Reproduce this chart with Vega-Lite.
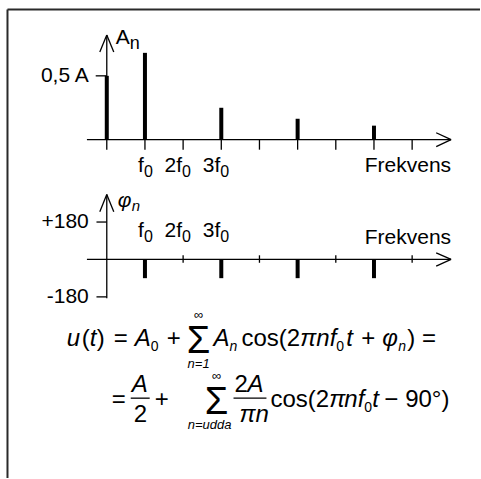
{
"$schema":"https://vega.github.io/schema/vega-lite/v6.json",
"width":481,"height":479,
"autosize":{"type":"fit","contains":"padding"},
"padding":0,
"background":"white",
"config":{"view":{"stroke":null},"mark":{"color":"black"},"text":{"font":"Liberation Sans"}},
"datasets":{
 "amplitude":[{"n":0,"A":0.5},{"n":1,"A":0.68},{"n":3,"A":0.25},{"n":5,"A":0.164},{"n":7,"A":0.11}],
 "phase":[{"n":1,"phi":-90},{"n":3,"phi":-90},{"n":5,"phi":-90},{"n":7,"phi":-90}],
 "ticks":[{"n":1},{"n":2},{"n":3},{"n":4},{"n":5},{"n":6},{"n":7},{"n":8}],
 "evenTicks":[{"n":2},{"n":4},{"n":6},{"n":8}],
 "harmLabels":[{"n":1,"main":"f","sub":"0"},{"n":2,"main":"2f","sub":"0"},{"n":3,"main":"3f","sub":"0"}],
 "ampAxes":[
  {"n":-0.52,"A":0,"n2":9.02,"A2":0},
  {"n":0,"A":-0.078,"n2":0,"A2":0.82},
  {"n":9.02,"A":0,"n2":8.63,"A2":0.0547},
  {"n":9.02,"A":0,"n2":8.63,"A2":-0.0547},
  {"n":0,"A":0.82,"n2":-0.183,"A2":0.6875},
  {"n":0,"A":0.82,"n2":0.183,"A2":0.6875},
  {"n":-0.29,"A":0.5,"n2":0,"A2":0.5}],
 "phaseAxes":[
  {"n":-0.52,"phi":0,"n2":9.02,"phi2":0},
  {"n":0,"phi":-187,"n2":0,"phi2":312},
  {"n":9.02,"phi":0,"n2":8.63,"phi2":32},
  {"n":9.02,"phi":0,"n2":8.63,"phi2":-32},
  {"n":0,"phi":312,"n2":-0.183,"phi2":230},
  {"n":0,"phi":312,"n2":0.183,"phi2":230},
  {"n":-0.27,"phi":180,"n2":0,"phi2":180},
  {"n":-0.27,"phi":-180,"n2":0,"phi2":-180}],
 "formula":[
  {"kind":"roman","t":"(","x":82,"y":347},
  {"kind":"roman","t":")","x":97,"y":347},
  {"kind":"roman","t":"=","x":114,"y":347},
  {"kind":"roman","t":"+","x":167,"y":347},
  {"kind":"roman","t":"cos(2","x":242,"y":347},
  {"kind":"roman","t":"+","x":362,"y":347},
  {"kind":"roman","t":")","x":408,"y":347},
  {"kind":"roman","t":"=","x":423,"y":347},
  {"kind":"italic","t":"u","x":67,"y":347},
  {"kind":"italic","t":"t","x":90,"y":347},
  {"kind":"italic","t":"A","x":135,"y":347},
  {"kind":"italic","t":"A","x":214,"y":347},
  {"kind":"italic","t":"π","x":301,"y":347},
  {"kind":"italic","t":"nf","x":317,"y":347},
  {"kind":"italic","t":"t","x":347,"y":347},
  {"kind":"italic","t":"φ","x":383,"y":347},
  {"kind":"subR","t":"0","x":151,"y":352},
  {"kind":"subR","t":"0","x":337,"y":352},
  {"kind":"subI","t":"n","x":230,"y":352},
  {"kind":"subI","t":"n","x":399,"y":352},
  {"kind":"big","t":"Σ","x":199,"y":354},
  {"kind":"limR","t":"∞","x":199,"y":320},
  {"kind":"limI","t":"n=1","x":199,"y":369},
  {"kind":"roman","t":"=","x":112,"y":408},
  {"kind":"roman","t":"2","x":134,"y":423},
  {"kind":"roman","t":"+","x":155,"y":408},
  {"kind":"roman","t":"2","x":235,"y":393},
  {"kind":"roman","t":"cos(2","x":271,"y":408},
  {"kind":"roman","t":"−","x":385,"y":408},
  {"kind":"roman","t":"90°)","x":406,"y":408},
  {"kind":"italic","t":"A","x":132,"y":393},
  {"kind":"italic","t":"A","x":248,"y":393},
  {"kind":"italic","t":"πn","x":240,"y":423},
  {"kind":"italic","t":"π","x":330,"y":408},
  {"kind":"italic","t":"nf","x":345,"y":408},
  {"kind":"italic","t":"t","x":373,"y":408},
  {"kind":"subR","t":"0","x":365,"y":413},
  {"kind":"big","t":"Σ","x":217,"y":415},
  {"kind":"limR","t":"∞","x":217,"y":381},
  {"kind":"limI","t":"n=udda","x":210,"y":430}],
 "fracBars":[{"x":131,"y":399,"x2":150,"y2":399},{"x":234,"y":399,"x2":267,"y2":399}],
 "frame":[{"x":7.5,"y":9.5,"x2":481,"y2":9.5},{"x":7.5,"y":9.5,"x2":7.5,"y2":479}]
},
"layer":[
 {"layer":[
  {"data":{"name":"ampAxes"},"mark":{"type":"rule","strokeWidth":1.3},
   "encoding":{"x":{"field":"n","type":"quantitative","scale":{"domain":[-2.7974,9.7778],"nice":false,"zero":false},"axis":null},"x2":{"field":"n2"},
    "y":{"field":"A","type":"quantitative","scale":{"domain":[-2.6484,1.09375],"nice":false,"zero":false},"axis":null},"y2":{"field":"A2"}}},
  {"data":{"name":"ticks"},"mark":{"type":"rule","strokeWidth":1.3},
   "encoding":{"x":{"field":"n","type":"quantitative","scale":{"domain":[-2.7974,9.7778],"nice":false,"zero":false},"axis":null},
    "y":{"datum":0,"type":"quantitative","scale":{"domain":[-2.6484,1.09375],"nice":false,"zero":false},"axis":null},"y2":{"datum":-0.078}}},
  {"data":{"name":"amplitude"},"mark":{"type":"rule","strokeWidth":4,"strokeCap":"butt"},
   "encoding":{"x":{"field":"n","type":"quantitative","scale":{"domain":[-2.7974,9.7778],"nice":false,"zero":false},"axis":null},
    "y":{"field":"A","type":"quantitative","scale":{"domain":[-2.6484,1.09375],"nice":false,"zero":false},"axis":null},"y2":{"datum":0}}},
  {"data":{"values":[{"label":"0,5 A","n":0,"A":0.5}]},"mark":{"type":"text","align":"right","baseline":"middle","dx":-18,"fontSize":21},
   "encoding":{"x":{"field":"n","type":"quantitative","scale":{"domain":[-2.7974,9.7778],"nice":false,"zero":false},"axis":null},
    "y":{"field":"A","type":"quantitative","scale":{"domain":[-2.6484,1.09375],"nice":false,"zero":false},"axis":null},"text":{"field":"label"}}},
  {"data":{"values":[{"main":"A","sub":"n","n":0,"A":0.75}]},"mark":{"type":"text","align":"left","baseline":"alphabetic","dx":9,"fontSize":21},
   "encoding":{"x":{"field":"n","type":"quantitative","scale":{"domain":[-2.7974,9.7778],"nice":false,"zero":false},"axis":null},
    "y":{"field":"A","type":"quantitative","scale":{"domain":[-2.6484,1.09375],"nice":false,"zero":false},"axis":null},"text":{"field":"main"}}},
  {"data":{"values":[{"main":"A","sub":"n","n":0,"A":0.75}]},"mark":{"type":"text","align":"left","baseline":"alphabetic","dx":23,"dy":5,"fontSize":18},
   "encoding":{"x":{"field":"n","type":"quantitative","scale":{"domain":[-2.7974,9.7778],"nice":false,"zero":false},"axis":null},
    "y":{"field":"A","type":"quantitative","scale":{"domain":[-2.6484,1.09375],"nice":false,"zero":false},"axis":null},"text":{"field":"sub"}}},
  {"data":{"name":"harmLabels"},"mark":{"type":"text","align":"right","baseline":"alphabetic","dx":-1,"fontSize":21},
   "encoding":{"x":{"field":"n","type":"quantitative","scale":{"domain":[-2.7974,9.7778],"nice":false,"zero":false},"axis":null},
    "y":{"datum":-0.25,"type":"quantitative","scale":{"domain":[-2.6484,1.09375],"nice":false,"zero":false},"axis":null},"text":{"field":"main"}}},
  {"data":{"name":"harmLabels"},"mark":{"type":"text","align":"left","baseline":"alphabetic","dx":-1,"dy":5,"fontSize":16},
   "encoding":{"x":{"field":"n","type":"quantitative","scale":{"domain":[-2.7974,9.7778],"nice":false,"zero":false},"axis":null},
    "y":{"datum":-0.25,"type":"quantitative","scale":{"domain":[-2.6484,1.09375],"nice":false,"zero":false},"axis":null},"text":{"field":"sub"}}},
  {"data":{"values":[{"label":"Frekvens","n":9.02,"A":-0.25}]},"mark":{"type":"text","align":"right","baseline":"alphabetic","fontSize":21},
   "encoding":{"x":{"field":"n","type":"quantitative","scale":{"domain":[-2.7974,9.7778],"nice":false,"zero":false},"axis":null},
    "y":{"field":"A","type":"quantitative","scale":{"domain":[-2.6484,1.09375],"nice":false,"zero":false},"axis":null},"text":{"field":"label"}}}
 ]},
 {"layer":[
  {"data":{"name":"phaseAxes"},"mark":{"type":"rule","strokeWidth":1.3},
   "encoding":{"x":{"field":"n","type":"quantitative","scale":{"domain":[-2.7974,9.7778],"nice":false,"zero":false},"axis":null},"x2":{"field":"n2"},
    "y":{"field":"phi","type":"quantitative","scale":{"domain":[-1051.2,1248],"nice":false,"zero":false},"axis":null},"y2":{"field":"phi2"}}},
  {"data":{"name":"evenTicks"},"mark":{"type":"rule","strokeWidth":1.3},
   "encoding":{"x":{"field":"n","type":"quantitative","scale":{"domain":[-2.7974,9.7778],"nice":false,"zero":false},"axis":null},
    "y":{"datum":20,"type":"quantitative","scale":{"domain":[-1051.2,1248],"nice":false,"zero":false},"axis":null},"y2":{"datum":-16}}},
  {"data":{"name":"phase"},"mark":{"type":"rule","strokeWidth":4,"strokeCap":"butt"},
   "encoding":{"x":{"field":"n","type":"quantitative","scale":{"domain":[-2.7974,9.7778],"nice":false,"zero":false},"axis":null},
    "y":{"field":"phi","type":"quantitative","scale":{"domain":[-1051.2,1248],"nice":false,"zero":false},"axis":null},"y2":{"datum":0}}},
  {"data":{"values":[{"label":"+180","n":0,"phi":180},{"label":"-180","n":0,"phi":-180}]},"mark":{"type":"text","align":"right","baseline":"middle","dx":-18,"fontSize":21},
   "encoding":{"x":{"field":"n","type":"quantitative","scale":{"domain":[-2.7974,9.7778],"nice":false,"zero":false},"axis":null},
    "y":{"field":"phi","type":"quantitative","scale":{"domain":[-1051.2,1248],"nice":false,"zero":false},"axis":null},"text":{"field":"label"}}},
  {"data":{"values":[{"main":"φ","sub":"n","n":0,"phi":250}]},"mark":{"type":"text","align":"left","baseline":"alphabetic","dx":11,"fontSize":21,"fontStyle":"italic"},
   "encoding":{"x":{"field":"n","type":"quantitative","scale":{"domain":[-2.7974,9.7778],"nice":false,"zero":false},"axis":null},
    "y":{"field":"phi","type":"quantitative","scale":{"domain":[-1051.2,1248],"nice":false,"zero":false},"axis":null},"text":{"field":"main"}}},
  {"data":{"values":[{"main":"φ","sub":"n","n":0,"phi":250}]},"mark":{"type":"text","align":"left","baseline":"alphabetic","dx":25,"dy":4,"fontSize":15,"fontStyle":"italic"},
   "encoding":{"x":{"field":"n","type":"quantitative","scale":{"domain":[-2.7974,9.7778],"nice":false,"zero":false},"axis":null},
    "y":{"field":"phi","type":"quantitative","scale":{"domain":[-1051.2,1248],"nice":false,"zero":false},"axis":null},"text":{"field":"sub"}}},
  {"data":{"name":"harmLabels"},"mark":{"type":"text","align":"right","baseline":"alphabetic","dx":-1,"fontSize":21},
   "encoding":{"x":{"field":"n","type":"quantitative","scale":{"domain":[-2.7974,9.7778],"nice":false,"zero":false},"axis":null},
    "y":{"datum":106,"type":"quantitative","scale":{"domain":[-1051.2,1248],"nice":false,"zero":false},"axis":null},"text":{"field":"main"}}},
  {"data":{"name":"harmLabels"},"mark":{"type":"text","align":"left","baseline":"alphabetic","dx":-1,"dy":5,"fontSize":16},
   "encoding":{"x":{"field":"n","type":"quantitative","scale":{"domain":[-2.7974,9.7778],"nice":false,"zero":false},"axis":null},
    "y":{"datum":106,"type":"quantitative","scale":{"domain":[-1051.2,1248],"nice":false,"zero":false},"axis":null},"text":{"field":"sub"}}},
  {"data":{"values":[{"label":"Frekvens","n":9.02,"phi":72}]},"mark":{"type":"text","align":"right","baseline":"alphabetic","fontSize":21},
   "encoding":{"x":{"field":"n","type":"quantitative","scale":{"domain":[-2.7974,9.7778],"nice":false,"zero":false},"axis":null},
    "y":{"field":"phi","type":"quantitative","scale":{"domain":[-1051.2,1248],"nice":false,"zero":false},"axis":null},"text":{"field":"label"}}}
 ]},
 {"layer":[
  {"data":{"name":"frame"},"mark":{"type":"rule","strokeWidth":2,"color":"#2a2a2a"},
   "encoding":{"x":{"field":"x","type":"quantitative","scale":{"domain":[0,481],"nice":false,"zero":false},"axis":null},"x2":{"field":"x2"},
    "y":{"field":"y","type":"quantitative","scale":{"domain":[0,479],"nice":false,"zero":false,"reverse":true},"axis":null},"y2":{"field":"y2"}}},
  {"data":{"name":"fracBars"},"mark":{"type":"rule","strokeWidth":1.3},
   "encoding":{"x":{"field":"x","type":"quantitative","scale":{"domain":[0,481],"nice":false,"zero":false},"axis":null},"x2":{"field":"x2"},
    "y":{"field":"y","type":"quantitative","scale":{"domain":[0,479],"nice":false,"zero":false,"reverse":true},"axis":null},"y2":{"field":"y2"}}},
  {"data":{"name":"formula"},"transform":[{"filter":"datum.kind === 'roman'"}],"mark":{"type":"text","align":"left","baseline":"alphabetic","fontSize":24},
   "encoding":{"x":{"field":"x","type":"quantitative","scale":{"domain":[0,481],"nice":false,"zero":false},"axis":null},
    "y":{"field":"y","type":"quantitative","scale":{"domain":[0,479],"nice":false,"zero":false,"reverse":true},"axis":null},"text":{"field":"t"}}},
  {"data":{"name":"formula"},"transform":[{"filter":"datum.kind === 'italic'"}],"mark":{"type":"text","align":"left","baseline":"alphabetic","fontSize":24,"fontStyle":"italic"},
   "encoding":{"x":{"field":"x","type":"quantitative","scale":{"domain":[0,481],"nice":false,"zero":false},"axis":null},
    "y":{"field":"y","type":"quantitative","scale":{"domain":[0,479],"nice":false,"zero":false,"reverse":true},"axis":null},"text":{"field":"t"}}},
  {"data":{"name":"formula"},"transform":[{"filter":"datum.kind === 'subR'"}],"mark":{"type":"text","align":"left","baseline":"alphabetic","fontSize":14},
   "encoding":{"x":{"field":"x","type":"quantitative","scale":{"domain":[0,481],"nice":false,"zero":false},"axis":null},
    "y":{"field":"y","type":"quantitative","scale":{"domain":[0,479],"nice":false,"zero":false,"reverse":true},"axis":null},"text":{"field":"t"}}},
  {"data":{"name":"formula"},"transform":[{"filter":"datum.kind === 'subI'"}],"mark":{"type":"text","align":"left","baseline":"alphabetic","fontSize":14,"fontStyle":"italic"},
   "encoding":{"x":{"field":"x","type":"quantitative","scale":{"domain":[0,481],"nice":false,"zero":false},"axis":null},
    "y":{"field":"y","type":"quantitative","scale":{"domain":[0,479],"nice":false,"zero":false,"reverse":true},"axis":null},"text":{"field":"t"}}},
  {"data":{"name":"formula"},"transform":[{"filter":"datum.kind === 'big'"}],"mark":{"type":"text","align":"center","baseline":"alphabetic","fontSize":38},
   "encoding":{"x":{"field":"x","type":"quantitative","scale":{"domain":[0,481],"nice":false,"zero":false},"axis":null},
    "y":{"field":"y","type":"quantitative","scale":{"domain":[0,479],"nice":false,"zero":false,"reverse":true},"axis":null},"text":{"field":"t"}}},
  {"data":{"name":"formula"},"transform":[{"filter":"datum.kind === 'limR'"}],"mark":{"type":"text","align":"center","baseline":"alphabetic","fontSize":13},
   "encoding":{"x":{"field":"x","type":"quantitative","scale":{"domain":[0,481],"nice":false,"zero":false},"axis":null},
    "y":{"field":"y","type":"quantitative","scale":{"domain":[0,479],"nice":false,"zero":false,"reverse":true},"axis":null},"text":{"field":"t"}}},
  {"data":{"name":"formula"},"transform":[{"filter":"datum.kind === 'limI'"}],"mark":{"type":"text","align":"center","baseline":"alphabetic","fontSize":13,"fontStyle":"italic"},
   "encoding":{"x":{"field":"x","type":"quantitative","scale":{"domain":[0,481],"nice":false,"zero":false},"axis":null},
    "y":{"field":"y","type":"quantitative","scale":{"domain":[0,479],"nice":false,"zero":false,"reverse":true},"axis":null},"text":{"field":"t"}}}
 ]}
],
"resolve":{"scale":{"x":"independent","y":"independent"}}
}
